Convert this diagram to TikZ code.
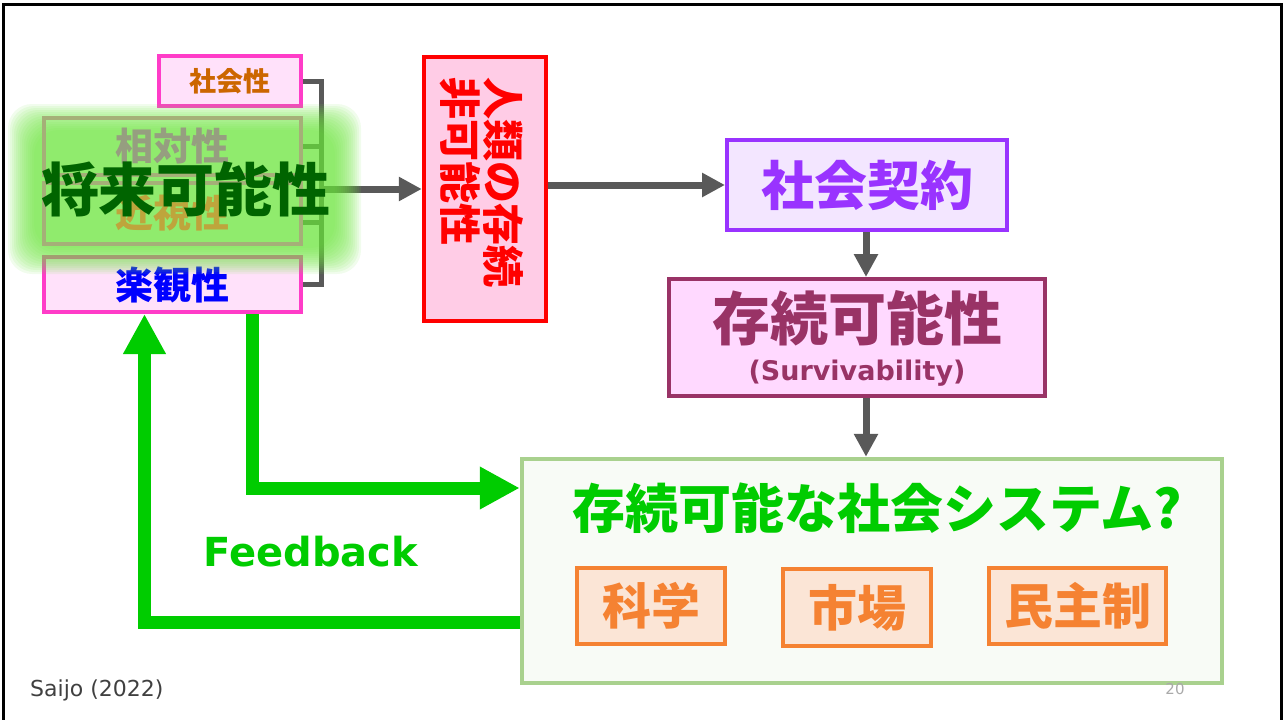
\documentclass[tikz,border=0pt]{standalone}
\usepackage{fontspec}
\setmainfont{DejaVu Sans}
\newfontfamily\jp{Noto Sans CJK JP}
\usetikzlibrary{arrows.meta}
\pgfdeclarelayer{glow}
\pgfdeclarelayer{front}
\pgfsetlayers{main,glow,front}
\definecolor{magline}{RGB}{255,60,200}
\definecolor{magfill}{RGB}{255,225,250}
\definecolor{olive}{RGB}{165,175,120}
\definecolor{glowc}{RGB}{108,228,61}
\definecolor{redfill}{RGB}{255,204,230}
\definecolor{purp}{RGB}{153,51,255}
\definecolor{purpfill}{RGB}{243,230,255}
\definecolor{wine}{RGB}{153,51,102}
\definecolor{winefill}{RGB}{255,217,255}
\definecolor{sysline}{RGB}{169,209,142}
\definecolor{sysfill}{RGB}{248,251,246}
\definecolor{orng}{RGB}{245,130,50}
\definecolor{orngfill}{RGB}{251,229,214}
\definecolor{fbgreen}{RGB}{0,204,0}
\definecolor{arrgray}{RGB}{89,89,89}
\begin{document}
\begin{tikzpicture}[x=1pt,y=-1pt,
 pbox/.style={draw=magline,fill=magfill,line width=4pt,inner sep=0pt,minimum width=257pt},
 gbox/.style={draw=olive,line width=4pt,inner sep=0pt,minimum width=257pt},
 obox/.style={draw=orng,fill=orngfill,line width=4pt,minimum height=76pt,text=orng,
  font=\jp\bfseries\fontsize{49}{49}\selectfont},
 brk/.style={draw=arrgray,line width=5pt},
 garr/.style={draw=arrgray,line width=7pt,-{Triangle[length=23pt,width=23pt]}},
 fb/.style={draw=fbgreen,line width=13pt,-{Triangle[length=40pt,width=40pt]}}]
	\useasboundingbox (0,0) rectangle (1286,720);
	\draw[line width=3pt] (3,730) -- (3,4) -- (1281,4) -- (1281,730);

	% left column
	\node[pbox,minimum width=142pt,minimum height=50pt,text={rgb,255:red,204;green,102;blue,0},
	 font=\jp\bfseries\fontsize{27}{27}\selectfont] (soc) at (230,81) {社会性};
	\node[pbox,minimum height=55pt,text=blue,font=\jp\bfseries\fontsize{38}{38}\selectfont] (opt) at (172.5,284.5) {楽観性};
	\path (soc.east) ++(18,0) coordinate (sj);
	\draw[brk] (soc.east) -| (sj |- opt.east) -- (opt.east);
	\draw[brk] (sj |- 0,146) -- ++(-20,0);
	\draw[brk] (sj |- 0,222) -- ++(-20,0);

	% glow
	\begin{pgfonlayer}{glow}
	\foreach \k in {0,...,13}
		\fill[glowc,fill opacity=0.095,rounded corners=24pt] (8+2*\k,104+2*\k) rectangle (361-2*\k,274-2*\k);
	\end{pgfonlayer}
	\begin{pgfonlayer}{front}
	\node[gbox,minimum height=57pt,text={rgb,255:red,150;green,158;blue,128},
	 font=\jp\bfseries\fontsize{38}{38}\selectfont] (rel) at (172.5,146.5) {相対性};
	\node[gbox,minimum height=61pt,text={rgb,255:red,190;green,165;blue,60},
	 font=\jp\bfseries\fontsize{38}{38}\selectfont] (myo) at (172.5,213.5) {近視性};
	\node[text={rgb,255:red,0;green,100;blue,0},font=\jp\bfseries\fontsize{58}{58}\selectfont] (fut) at (186,189) {将来可能性};
	\end{pgfonlayer}

	% red box
	\node[draw=red,fill=redfill,line width=4.5pt,minimum width=122pt,minimum height=264pt] (ext) at (485,189) {};
	\node[rotate=-90,anchor=west,align=left,inner sep=0pt,text=red,
	 font=\jp\bfseries\fontsize{42}{43}\selectfont] (extT) at (481.5,77) {人類の存続\\非可能性};
	\draw[garr] (sj |- ext.west) -- (ext.west);

	% right column
	\node[draw=purp,fill=purpfill,line width=4pt,minimum width=280pt,minimum height=90pt,text=purp,
	 font=\jp\bfseries\fontsize{53}{53}\selectfont] (cont) at (867,185) {社会契約};
	\node[draw=wine,fill=winefill,line width=4pt,minimum width=376pt,minimum height=117pt] (surv) at (857,337.5) {};
	\node[text=wine,font=\jp\bfseries\fontsize{58}{58}\selectfont] (survT) at (857,318) {存続可能性};
	\node[text=wine,font=\bfseries\fontsize{27}{27}\selectfont] (survE) at (857,373) {(Survivability)};
	\draw[garr] (ext.east |- cont.west) -- (cont.west);
	\draw[garr] (cont.south -| 866,0) -- (surv.north -| 866,0);

	% system box
	\node[draw=sysline,fill=sysfill,line width=4.5pt,minimum width=700pt,minimum height=224pt] (sys) at (872,571) {};
	\draw[garr] (surv.south -| 866,0) -- (sys.north -| 866,0);
	\node[text=fbgreen,font=\jp\bfseries\fontsize{53}{53}\selectfont] (sysT) at (877,508) {存続可能な社会システム?};
	\node[obox,minimum width=148pt] (sci) at (651,606) {科学};
	\node[obox,minimum width=148pt,minimum height=77pt] (mkt) at (857,607.5) {市場};
	\node[obox,minimum width=177pt] (dem) at (1077.5,606) {民主制};

	% feedback
	\draw[fb] ([xshift=80pt]opt.south) |- ([yshift=83pt]sys.west);
	\draw[fb] ([yshift=-51pt]sys.west) -| ([xshift=-28pt]opt.south);
	\node[text=fbgreen,font=\bfseries\fontsize{40}{40}\selectfont] (fbT) at (311,552) {Feedback};

	\node[anchor=west,inner sep=0pt,text={rgb,255:red,64;green,64;blue,64},font=\fontsize{22}{22}\selectfont] (src) at (30,690) {Saijo (2022)};
	\node[text={rgb,255:red,170;green,170;blue,170},font=\fontsize{15}{15}\selectfont] (pg) at (1175,689) {20};
\end{tikzpicture}
\end{document}
